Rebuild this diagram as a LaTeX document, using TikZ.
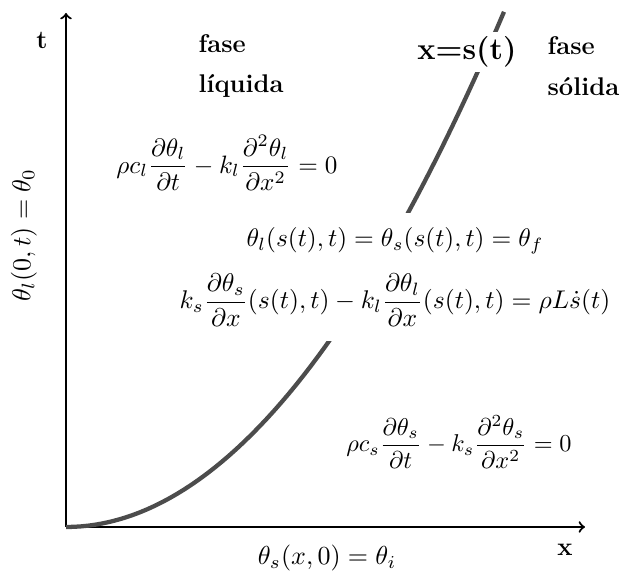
\documentclass[tikz,border=0pt]{standalone}
\usepackage{amsmath}
\usepackage{amssymb}
\usepackage{xcolor}
\usepackage{tikz}
\usetikzlibrary{arrows, positioning}

\begin{document}
\begin{tikzpicture}[
  x=0.0165cm, y=0.0165cm,
  >=to,
  axis/.style={->, line width=1pt},
  front/.style={line width=2pt, draw=black!70},
  lbl/.style={font=\bfseries\large},
  eq/.style={fill=white, inner sep=2pt, align=center},
]
  \useasboundingbox (0,0) rectangle (621,577);

  % axes
  \coordinate (origin) at (66,50);
  \coordinate (xend) at (585,50);
  \coordinate (tend) at (66,564);
  \draw[axis] (origin) -- (xend);
  \draw[axis] (origin) -- (tend);

  % interface x=s(t)
  \draw[front] plot[domain=0:438, samples=60] ({66+\x},{50+0.00269*\x*\x});

  \node[lbl] (tlabel) at (42,537) {t};
  \node[lbl] (xlabel) at (565,27) {x};
  \node[lbl, font=\bfseries\Large, fill=white, inner sep=2pt] (front) at (467,525) {x=s(t)};
  \node[lbl, anchor=west, align=left] (liquid) at (191,511) {fase\\[5pt] líquida};
  \node[lbl, anchor=west, align=left] (solid) at (540,511) {fase\\[5pt] sólida};

  % equations
  \node[eq] (eqliq) at (227,414) {\scalebox{1.18}{$\displaystyle \rho c_l\frac{\partial\theta_l}{\partial t}-k_l\frac{\partial^2\theta_l}{\partial x^2}=0$}};
  \node[eq, inner sep=7pt] (eqint) at (395,300) {\scalebox{1.19}{$\theta_l(s(t),t)=\theta_s(s(t),t)=\theta_f$}\\[8pt]
    \scalebox{1.2}{$\displaystyle k_s\frac{\partial\theta_s}{\partial x}(s(t),t)-k_l\frac{\partial\theta_l}{\partial x}(s(t),t)=\rho L\dot{s}(t)$}};
  \node[eq] (eqsol) at (459,135) {\scalebox{1.14}{$\displaystyle \rho c_s\frac{\partial\theta_s}{\partial t}-k_s\frac{\partial^2\theta_s}{\partial x^2}=0$}};
  \node (init) at (327,19) {\scalebox{1.22}{$\theta_s(x,0)=\theta_i$}};
  \node[rotate=90] (bound) at (24,342) {\scalebox{1.22}{$\theta_l(0,t)=\theta_0$}};
\end{tikzpicture}
\end{document}
